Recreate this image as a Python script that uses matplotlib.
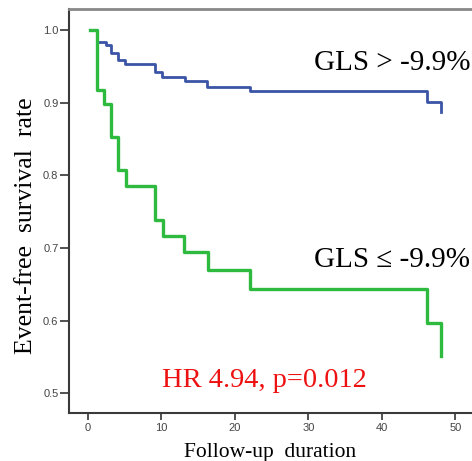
import numpy as np
import matplotlib.pyplot as plt

# Kaplan-Meier steps (time, survival) for the two GLS groups
t_high = [0.3, 1.2, 2.4, 3.1, 4.1, 5.0, 9.1, 10.1, 13.2, 16.2, 22.1, 46.1, 48.1]
s_high = [1.000, 0.984, 0.980, 0.969, 0.959, 0.953, 0.943, 0.936, 0.930, 0.922, 0.916, 0.901, 0.887]

t_low = [0.3, 1.2, 2.2, 3.1, 4.1, 5.2, 9.1, 10.2, 13.1, 16.3, 22.1, 46.1, 48.1]
s_low = [1.000, 0.918, 0.899, 0.853, 0.807, 0.786, 0.739, 0.716, 0.694, 0.669, 0.643, 0.596, 0.551]

x_ticks = [0, 10, 20, 30, 40, 50]
y_ticks = [0.5, 0.6, 0.7, 0.8, 0.9, 1.0]

serif = ['Liberation Serif', 'DejaVu Serif']

fig = plt.figure(figsize=(4.72, 4.61), dpi=100)
ax = fig.add_axes([0.146, 0.104, 0.881, 0.876])

ax.step(t_high, s_high, where='post', color='#3b55a6', lw=2.0)
ax.step(t_low, s_low, where='post', color='#2dba3f', lw=2.4)

ax.set_xlim(-2.6, 54)
ax.set_ylim(0.4725, 1.029)
ax.set_xticks(x_ticks)
ax.set_yticks(y_ticks)
ax.set_xticklabels([str(v) for v in x_ticks])
ax.set_yticklabels(['%.1f' % v for v in y_ticks])
ax.tick_params(direction='out', width=1.2, color='#333333',
               labelsize=8, labelcolor='#444444')
ax.tick_params(axis='y', length=6.5, pad=1)
ax.tick_params(axis='x', length=5, pad=2)
for lab in ax.get_xticklabels() + ax.get_yticklabels():
    lab.set_family(['Liberation Sans Narrow', 'Liberation Sans'])

for side in ['left', 'bottom']:
    ax.spines[side].set_color('#3a3a3a')
    ax.spines[side].set_linewidth(1.5)
ax.spines['top'].set_color('#888888')
ax.spines['top'].set_linewidth(2.0)
ax.spines['right'].set_visible(False)

ax.set_ylabel('Event-free  survival  rate', family=serif, fontsize=18.5)
ax.yaxis.set_label_coords(-0.077, 0.465)
ax.set_xlabel('Follow-up  duration', family=serif, fontsize=15.5)
ax.xaxis.set_label_coords(0.483, -0.075)

ax.text(52.0, 0.955, 'GLS > -9.9%', family=serif, fontsize=21, ha='right', va='center')
ax.text(52.0, 0.683, 'GLS \u2264 -9.9%', family=serif, fontsize=21, ha='right', va='center')
ax.text(10.1, 0.518, 'HR 4.94, p=0.012', family=serif, fontsize=20.5, color='#ee1111',
        ha='left', va='center')

fig.savefig('out.png', dpi=100)
